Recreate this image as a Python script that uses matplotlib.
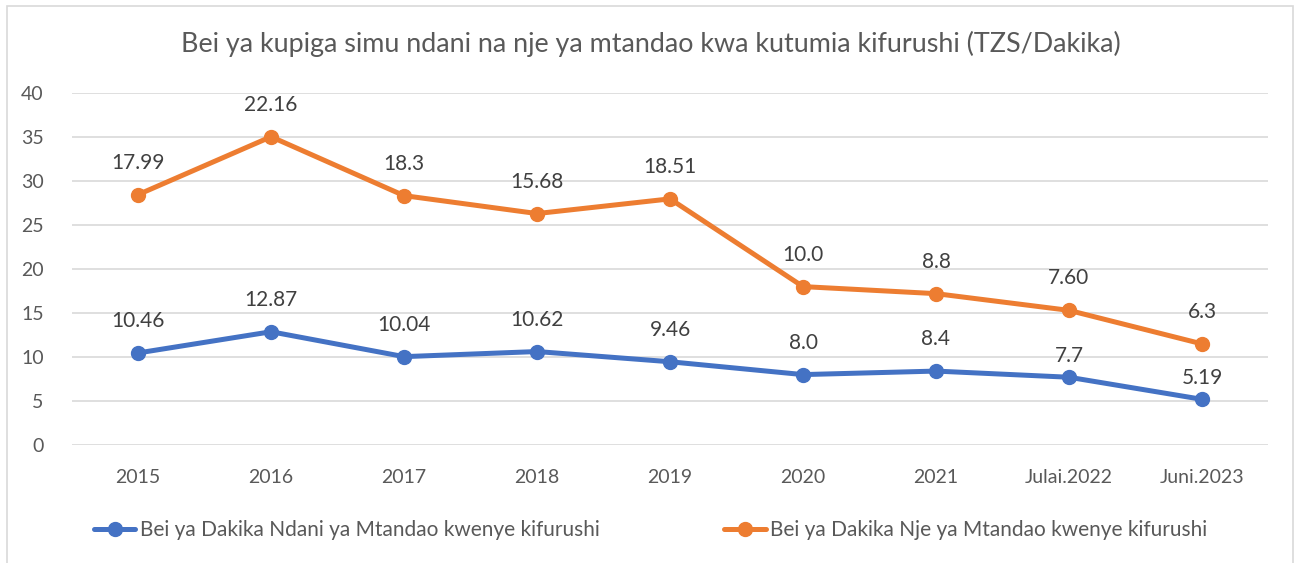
import matplotlib.pyplot as plt
from matplotlib.patches import Rectangle

categories = ['2015', '2016', '2017', '2018', '2019', '2020', '2021', 'Julai.2022', 'Juni.2023']
ndani = [10.46, 12.87, 10.04, 10.62, 9.46, 8.0, 8.4, 7.7, 5.19]
nje = [17.99, 22.16, 18.3, 15.68, 18.51, 10.0, 8.8, 7.60, 6.3]
ndani_labels = ['10.46', '12.87', '10.04', '10.62', '9.46', '8.0', '8.4', '7.7', '5.19']
nje_labels = ['17.99', '22.16', '18.3', '15.68', '18.51', '10.0', '8.8', '7.60', '6.3']

plt.rcParams['font.family'] = ['Lato', 'DejaVu Sans']
txt = '#595959'

fig = plt.figure(figsize=(13.01, 5.63), dpi=100)
ax = fig.add_axes([0.055, 0.2096, 0.92, 0.6252])

# stacked line chart: second series sits on top of the first
stacked = [a + b for a, b in zip(ndani, nje)]
x = list(range(len(categories)))

ax.plot(x, ndani, color='#4472C4', lw=3.6, marker='o', ms=10, solid_capstyle='round',
        label='Bei ya Dakika Ndani ya Mtandao kwenye kifurushi', zorder=3)
ax.plot(x, stacked, color='#ED7D31', lw=3.6, marker='o', ms=10, solid_capstyle='round',
        label='Bei ya Dakika Nje ya Mtandao kwenye kifurushi', zorder=3)

# label offsets in points (last two blue labels sit a bit lower in the original)
ndani_off = [23, 23, 23, 23, 23, 23, 23, 15, 15]
for xi, yi, lab, off in zip(x, ndani, ndani_labels, ndani_off):
    ax.annotate(lab, (xi, yi), xytext=(0, off), textcoords='offset points',
                ha='center', va='center', fontsize=15, color='#404040')
for xi, yi, lab in zip(x, stacked, nje_labels):
    ax.annotate(lab, (xi, yi), xytext=(0, 23), textcoords='offset points',
                ha='center', va='center', fontsize=15, color='#404040')

ax.set_xlim(-0.5, len(categories) - 0.5)
ax.set_ylim(0, 40)
ax.set_yticks(range(0, 41, 5))
ax.set_xticks(x)
ax.set_xticklabels(categories)
ax.tick_params(axis='both', length=0, labelsize=14, colors=txt)
ax.tick_params(axis='x', pad=17)
ax.tick_params(axis='y', pad=20)
ax.grid(axis='y', color='#D9D9D9', lw=1.2)
ax.set_axisbelow(True)
for s in ax.spines.values():
    s.set_visible(False)

fig.text(0.5, 0.922, 'Bei ya kupiga simu ndani na nje ya mtandao kwa kutumia kifurushi (TZS/Dakika)',
         ha='center', va='center', fontsize=19.4, color=txt)

fig.legend(loc='center', bbox_to_anchor=(0.5, 0.058), ncol=2, frameon=False,
           fontsize=15, labelcolor=txt, handlelength=2.0, columnspacing=6, handletextpad=0.2)

fig.patches.append(Rectangle((0.0055, -0.05), 0.988, 1.04, transform=fig.transFigure,
                             fill=False, edgecolor='#D9D9D9', lw=1.2))

fig.savefig('out.png', dpi=100)
